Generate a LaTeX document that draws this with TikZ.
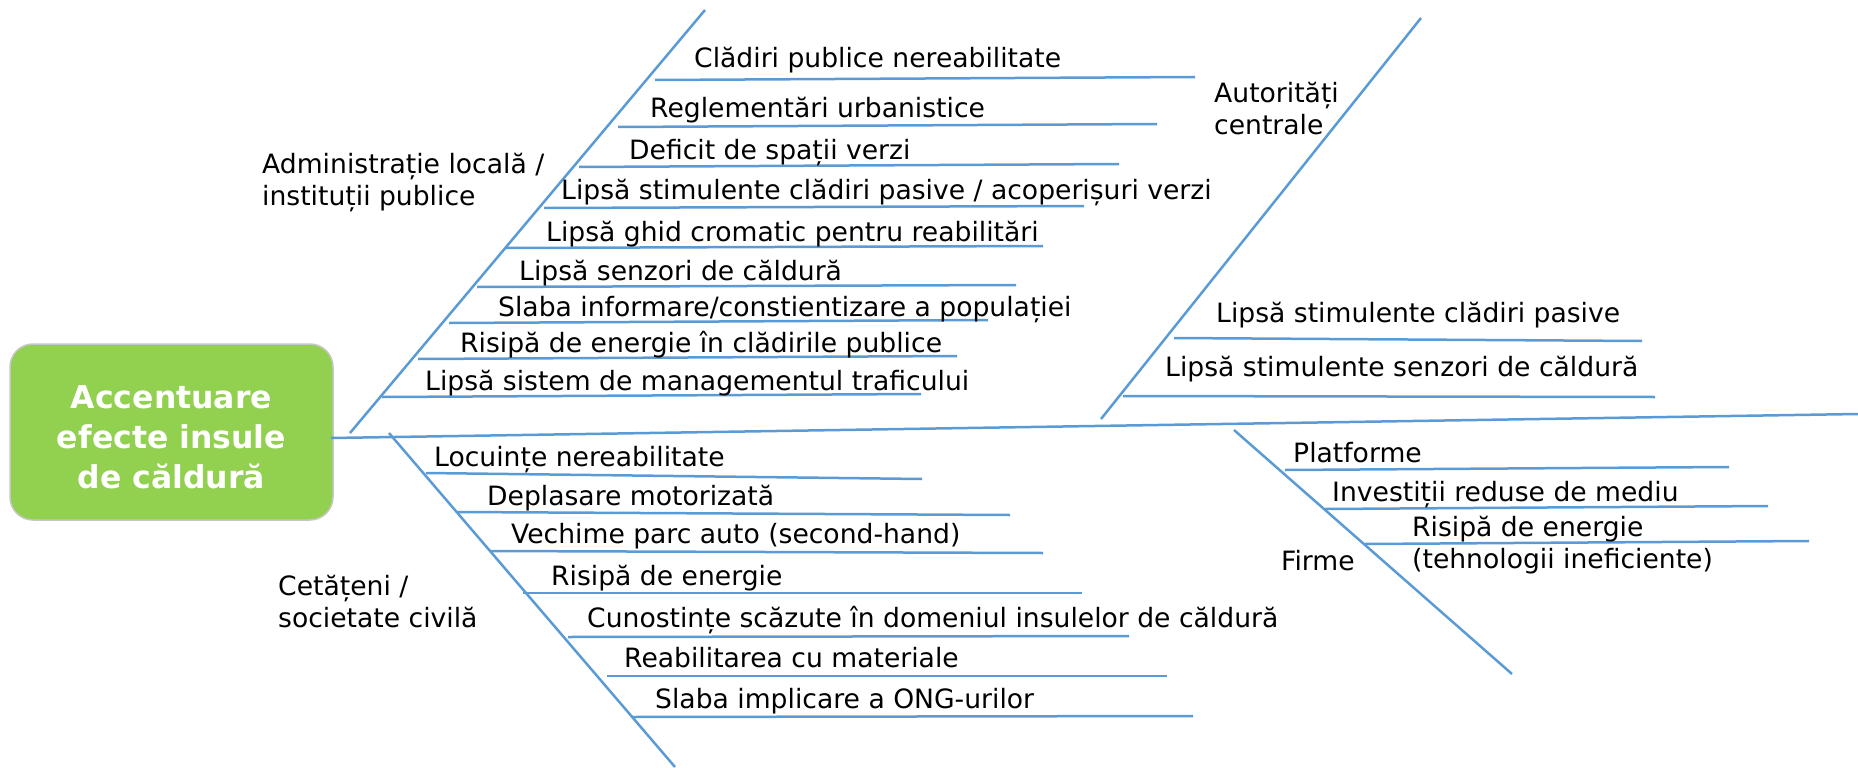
\documentclass[tikz,border=0pt]{standalone}
\usepackage{fontspec}
\setmainfont{DejaVu Sans}
\definecolor{boneblue}{HTML}{5B9BD5}
\definecolor{headgreen}{HTML}{92D050}
\definecolor{headborder}{HTML}{C6C6C6}
\begin{document}
\begin{tikzpicture}[x=1pt,y=-1pt,
  bone/.style={draw=boneblue, line width=2.5pt},
  lbl/.style={anchor=base west, inner sep=0pt, font=\fontsize{26.6}{32}\selectfont, text=black},
  grp/.style={anchor=base west, inner sep=0pt, font=\fontsize{26.6}{32}\selectfont, align=left, text=black},
  headbox/.style={draw=headborder, fill=headgreen, rounded corners=23pt, line width=1.5pt, minimum width=323pt, minimum height=176pt},
  headtext/.style={align=center, text=white, font=\fontsize{31.5}{40}\bfseries\selectfont, inner sep=0pt}]
\useasboundingbox (0,0) rectangle (1858,768);

% head
\node[headbox] (head) at (171.5,432) {};
\node[headtext] (headlbl) at (171.5,437) {Accentuare\\efecte insule\\de căldură};

% spine
\coordinate (spL) at (331,438);
\coordinate (spR) at (1858,414);
\draw[bone] (spL) -- (spR);

% ---- upper-left branch: Administratie locala
\coordinate (b1a) at (350,433);
\coordinate (b1b) at (705,10);
\draw[bone] (b1a) -- (b1b);
\node[grp] (g1) at (262,205) {Administrație locală /\\instituții publice};

\coordinate (r11a) at (655,80);  \coordinate (r11b) at (1195,77);
\coordinate (r12a) at (618,127); \coordinate (r12b) at (1157,124);
\coordinate (r13a) at (579,167); \coordinate (r13b) at (1119,164);
\coordinate (r14a) at (544,208); \coordinate (r14b) at (1084,206);
\coordinate (r15a) at (505,248); \coordinate (r15b) at (1043,246);
\coordinate (r16a) at (477,287); \coordinate (r16b) at (1016,285);
\coordinate (r17a) at (449,323); \coordinate (r17b) at (988,320);
\coordinate (r18a) at (418,359); \coordinate (r18b) at (957,356);
\coordinate (r19a) at (382,397); \coordinate (r19b) at (921,394);
\foreach \i in {1,...,9} {\draw[bone] (r1\i a) -- (r1\i b);}

\node[lbl] (t11) at (694,68)  {Clădiri publice nereabilitate};
\node[lbl] (t12) at (650,117) {Reglementări urbanistice};
\node[lbl] (t13) at (629,159) {Deficit de spații verzi};
\node[lbl] (t14) at (561,199) {Lipsă stimulente clădiri pasive / acoperișuri verzi};
\node[lbl] (t15) at (546,241) {Lipsă ghid cromatic pentru reabilitări};
\node[lbl] (t16) at (519,280) {Lipsă senzori de căldură};
\node[lbl] (t17) at (498,316) {Slaba informare/constientizare a populației};
\node[lbl] (t18) at (460,352) {Risipă de energie în clădirile publice};
\node[lbl] (t19) at (425,390) {Lipsă sistem de managementul traficului};

% ---- upper-right branch: Autoritati centrale
\coordinate (b2a) at (1101,419);
\coordinate (b2b) at (1421,18);
\draw[bone] (b2a) -- (b2b);
\node[grp] (g2) at (1214,134) {Autorități\\centrale};

\coordinate (r21a) at (1174,338); \coordinate (r21b) at (1642,341);
\coordinate (r22a) at (1123,396); \coordinate (r22b) at (1655,397);
\draw[bone] (r21a) -- (r21b);
\draw[bone] (r22a) -- (r22b);
\node[lbl] (t21) at (1216,322) {Lipsă stimulente clădiri pasive};
\node[lbl] (t22) at (1165,376) {Lipsă stimulente senzori de căldură};

% ---- lower-left branch: Cetateni
\coordinate (b3a) at (389,433);
\coordinate (b3b) at (675,767);
\draw[bone] (b3a) -- (b3b);
\node[grp] (g3) at (278,627) {Cetățeni /\\societate civilă};

\coordinate (r31a) at (426,473); \coordinate (r31b) at (922,479);
\coordinate (r32a) at (457,512); \coordinate (r32b) at (1010,515);
\coordinate (r33a) at (490,551); \coordinate (r33b) at (1043,553);
\coordinate (r34a) at (523,593); \coordinate (r34b) at (1082,593);
\coordinate (r35a) at (568,637); \coordinate (r35b) at (1129,636);
\coordinate (r36a) at (607,676); \coordinate (r36b) at (1167,676);
\coordinate (r37a) at (632,717); \coordinate (r37b) at (1193,716);
\foreach \i in {1,...,7} {\draw[bone] (r3\i a) -- (r3\i b);}

\node[lbl] (t31) at (434,466) {Locuințe nereabilitate};
\node[lbl] (t32) at (487,505) {Deplasare motorizată};
\node[lbl] (t33) at (511,543) {Vechime parc auto (second-hand)};
\node[lbl] (t34) at (551,585) {Risipă de energie};
\node[lbl] (t35) at (587,627) {Cunostințe scăzute în domeniul insulelor de căldură};
\node[lbl] (t36) at (624,667) {Reabilitarea cu materiale};
\node[lbl] (t37) at (655,708) {Slaba implicare a ONG-urilor};

% ---- lower-right branch: Firme
\coordinate (b4a) at (1234,430);
\coordinate (b4b) at (1512,674);
\draw[bone] (b4a) -- (b4b);
\node[lbl] (g4) at (1281,570) {Firme};

\coordinate (r41a) at (1285,470); \coordinate (r41b) at (1729,467);
\coordinate (r42a) at (1325,509); \coordinate (r42b) at (1768,506);
\coordinate (r43a) at (1365,544); \coordinate (r43b) at (1809,541);
\foreach \i in {1,2,3} {\draw[bone] (r4\i a) -- (r4\i b);}

\node[lbl] (t41) at (1293,462) {Platforme};
\node[lbl] (t42) at (1332,501) {Investiții reduse de mediu};
\node[grp] (t43) at (1412,568) {Risipă de energie\\(tehnologii ineficiente)};
\end{tikzpicture}
\end{document}
